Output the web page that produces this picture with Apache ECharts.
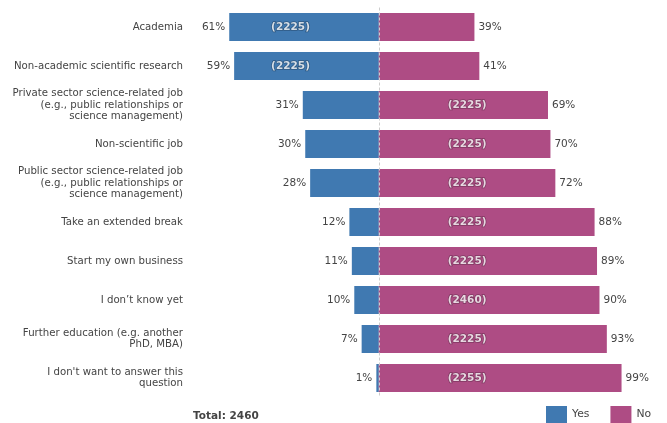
<!DOCTYPE html>
<html>
<head>
<meta charset="utf-8">
<script src="https://cdn.jsdelivr.net/npm/echarts@6/dist/echarts.min.js"></script>
<style>html,body{margin:0;padding:0;background:#fff}#main{width:667px;height:423px}</style>
</head>
<body>
<div id="main"></div>
<script>
const categories = [
  "Academia",
  "Non-academic scientific research",
  "Private sector science-related job\n(e.g., public relationships or\nscience management)",
  "Non-scientific job",
  "Public sector science-related job\n(e.g., public relationships or\nscience management)",
  "Take an extended break",
  "Start my own business",
  "I don\u2019t know yet",
  "Further education (e.g. another\nPhD, MBA)",
  "I don't want to answer this\nquestion"
];
const yesValues = [61, 59, 31, 30, 28, 12, 11, 10, 7, 1];
const noValues  = [39, 41, 69, 70, 72, 88, 89, 90, 93, 99];
const counts    = [2225, 2225, 2225, 2225, 2225, 2225, 2225, 2460, 2225, 2255];
const totalN = 2460;

const BLUE = '#4079b1', PINK = '#ae4c84', TXT = '#444';
const FONT = 'DejaVu Sans';

const countData = counts.map((c, i) => [yesValues[i] > noValues[i] ? -36 : 36, i, c]);

const chart = echarts.init(document.getElementById('main'), null, {renderer: 'canvas'});
chart.setOption({
  animation: false,
  textStyle: {fontFamily: FONT},
  grid: {left: 190, width: 434, top: 7.5, height: 390, containLabel: false},
  xAxis: {type: 'value', min: -77, max: 100, show: false},
  yAxis: {
    type: 'category', data: categories, inverse: true,
    axisLine: {show: false}, axisTick: {show: false}, splitLine: {show: false},
    axisLabel: {color: TXT, fontSize: 10.2, fontFamily: FONT, margin: 7, lineHeight: 11.6, align: 'right'}
  },
  legend: {
    left: 546, top: 406, padding: 0, itemWidth: 21, itemHeight: 17, itemGap: 21,
    icon: 'rect',
    textStyle: {color: TXT, fontSize: 10.8, fontFamily: FONT, padding: [3, 0, 0, 0]},
    data: ['Yes', 'No']
  },
  graphic: [{
    type: 'text', left: 193, top: 411,
    style: {text: 'Total: ' + totalN, font: 'bold 10.5px "DejaVu Sans"', fill: TXT}
  }],
  series: [
    {
      name: 'Yes', type: 'bar', data: yesValues.map(v => -v), barWidth: 28, barGap: '-100%',
      itemStyle: {color: BLUE},
      label: {show: true, position: 'left', distance: 4, color: TXT, fontSize: 10.5, fontFamily: FONT,
        formatter: p => Math.abs(p.value) + '%'},
      markLine: {
        silent: true, symbol: 'none', label: {show: false},
        lineStyle: {color: '#ccc', type: [3, 2], width: 1},
        data: [{xAxis: 0}]
      }
    },
    {
      name: 'No', type: 'bar', data: noValues, barWidth: 28, barGap: '-100%',
      itemStyle: {color: PINK},
      label: {show: true, position: 'right', distance: 4, color: TXT, fontSize: 10.5, fontFamily: FONT,
        formatter: p => p.value + '%'}
    },
    {
      name: 'count', type: 'scatter', data: countData, symbolSize: 0, z: 5,
      label: {show: true, position: 'inside', color: '#fff', fontWeight: 'bold', fontSize: 10.5, fontFamily: FONT,
        textBorderColor: 'rgba(0,0,0,0.35)', textBorderWidth: 1.5,
        formatter: p => '(' + p.value[2] + ')'}
    }
  ]
});
</script>
</body>
</html>
